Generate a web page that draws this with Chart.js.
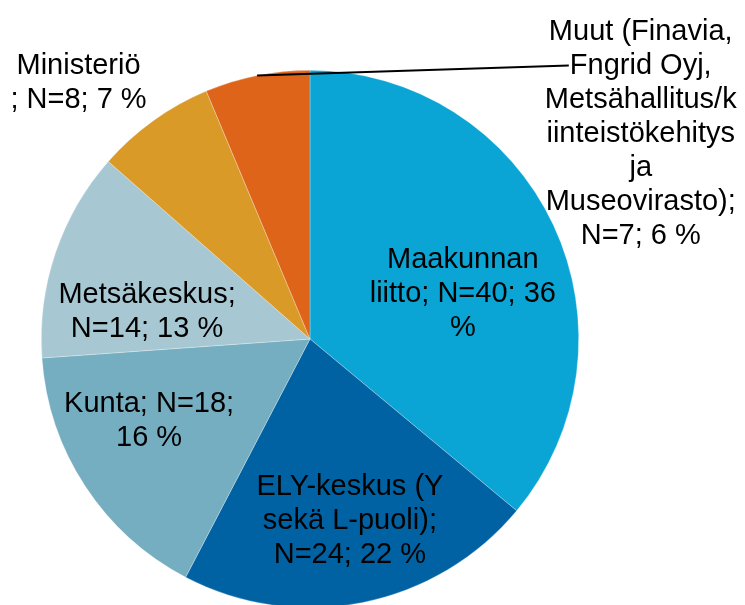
<!DOCTYPE html>
<html>
<head>
<meta charset="utf-8">
<script src="https://cdn.jsdelivr.net/npm/chart.js@4.4.0/dist/chart.umd.min.js"></script>
<style>
  html, body { margin: 0; padding: 0; background: #fff; overflow: hidden; }
</style>
</head>
<body>
<canvas id="pie-canvas" width="745" height="620"></canvas>
<script>
/* -------------  DATA  ------------- */

const categories = ['Maakunnan liitto', 'ELY-keskus (Y sekä L-puoli)', 'Kunta', 'Metsäkeskus', 'Ministeriö',
  'Muut (Finavia, Fngrid Oyj, Metsähallitus/kiinteistökehitys ja Museovirasto)'];
const counts = [40, 24, 18, 14, 8, 7];
const colors = ['#0aa5d5', '#0062a2', '#76aec1', '#a7c8d3', '#da9a28', '#de641a'];

// label text exactly as wrapped in the original
const labelLines = [
  ['Maakunnan', 'liitto; N=40; 36', '%'],
  ['ELY-keskus (Y', 'sekä L-puoli);', 'N=24; 22 %'],
  ['Kunta; N=18;', '16 %'],
  ['Metsäkeskus;', 'N=14; 13 %'],
  ['Ministeriö', '; N=8; 7 %'],
  ['Muut (Finavia,', 'Fngrid Oyj,', 'Metsähallitus/k', 'iinteistökehitys', 'ja', 'Museovirasto);', 'N=7; 6 %'],
];

// label placement: angle (deg) and distance as share of the radius
const labelPolar = [[-17.1, 0.595], [77.5, 0.686], [153.7, 0.668], [190.1, 0.616], [-131.9, 1.29], [-32.1, 1.453]];
const leaderLines = [false, false, false, false, false, true];

const LINE_HEIGHT = 34;
const FONT_SIZE = 29;

/* -------------  CHART  ------------- */

/**
 * Draws the multi-line slice labels and the leader line.
 */
const sliceLabels = {
  id: 'sliceLabels',
  afterDatasetsDraw(chart) {
    const ctx = chart.ctx;
    const arcs = chart.getDatasetMeta(0).data;
    ctx.save();
    ctx.font = FONT_SIZE + 'px "Liberation Sans", Arial, sans-serif';
    ctx.fillStyle = '#000';
    ctx.textAlign = 'center';
    ctx.textBaseline = 'alphabetic';
    const capShift = FONT_SIZE * 0.358;

    arcs.forEach((arc, i) => {
      const p = arc.getProps(['x', 'y', 'outerRadius', 'startAngle', 'endAngle'], true);
      const a = labelPolar[i][0] * Math.PI / 180;
      const cx = p.x + Math.cos(a) * p.outerRadius * labelPolar[i][1];
      const cy = p.y + Math.sin(a) * p.outerRadius * labelPolar[i][1];
      const lines = labelLines[i];
      const top = cy - (lines.length - 1) * LINE_HEIGHT / 2;

      if (leaderLines[i]) {
        const mid = (p.startAngle + p.endAngle) / 2;
        const w = ctx.measureText(lines[1]).width;
        ctx.beginPath();
        ctx.moveTo(p.x + Math.cos(mid) * p.outerRadius, p.y + Math.sin(mid) * p.outerRadius);
        ctx.lineTo(cx - w / 2 - 1, top + LINE_HEIGHT + 2);
        ctx.lineWidth = 2;
        ctx.strokeStyle = '#000';
        ctx.stroke();
      }

      lines.forEach((t, j) => ctx.fillText(t, cx, top + j * LINE_HEIGHT + capShift));
    });
    ctx.restore();
  },
};

const pieChart = new Chart(document.getElementById('pie-canvas'), {
  type: 'pie',
  data: {
    labels: categories,
    datasets: [
      {
        data: counts,
        backgroundColor: colors,
        borderColor: 'rgba(255, 255, 255, 0.45)',
        borderWidth: 0.6,
      },
    ],
  },
  options: {
    responsive: false,
    animation: false,
    layout: { padding: { left: 41, right: 166, top: 70, bottom: 12 } },
    plugins: {
      legend: { display: false },
      tooltip: { enabled: false },
    },
  },
  plugins: [sliceLabels],
});
</script>
</body>
</html>
